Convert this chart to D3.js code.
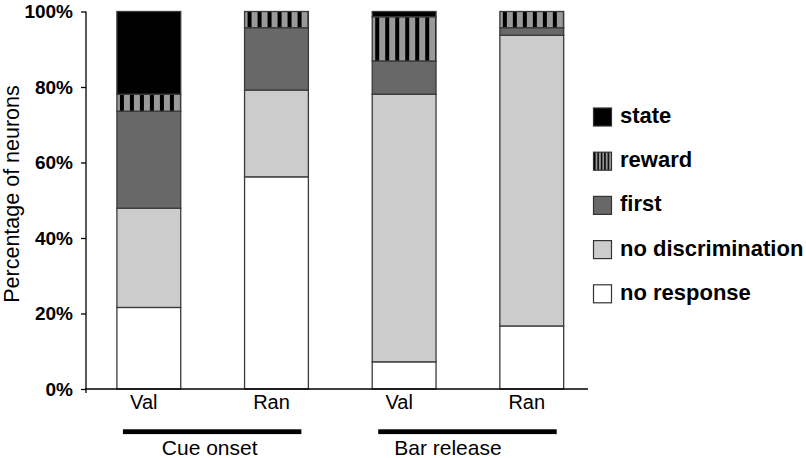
<!DOCTYPE html>
<html>
<head>
<meta charset="utf-8">
<script src="https://cdn.jsdelivr.net/npm/d3@7"></script>
<style>
  html, body { margin: 0; padding: 0; background: #fff; }
  svg { display: block; font-family: "Liberation Sans", Arial, sans-serif; }
</style>
</head>
<body>
<svg id="chart" width="806" height="458"></svg>
<script>
// ---- data (percent of neurons, segment sizes, bottom to top) ----
const categories = ["Val", "Ran", "Val ", "Ran "];
const tickLabels = ["Val", "Ran", "Val", "Ran"];
const noResponse       = [21.6, 56.2,  7.2, 16.7];
const noDiscrimination = [26.3, 23.0, 70.9, 77.0];
const first            = [25.7, 16.5,  8.8,  2.0];
const reward           = [ 4.5,  4.3, 11.7,  4.3];
const state            = [21.9,  0.0,  1.4,  0.0];
const seriesNames = ["no response", "no discrimination", "first", "reward", "state"];
const groupLabels = ["Cue onset", "Bar release"];
const groupMembers = [["Val", "Ran"], ["Val ", "Ran "]];
const yTicks = [0, 20, 40, 60, 80, 100];

// ---- build table ----
const seriesValues = [noResponse, noDiscrimination, first, reward, state];
const table = categories.map((c, i) => {
  const row = { cat: c };
  seriesNames.forEach((s, j) => row[s] = seriesValues[j][i]);
  return row;
});

const svg = d3.select("#chart");

const x = d3.scaleBand().domain(categories).range([85, 595.6])
  .paddingInner(0.5).paddingOuter(0.25);
const y = d3.scaleLinear().domain([0, 100]).range([389, 11.5]);

// patterns
const defs = svg.append("defs");
categories.forEach((c, i) => {
  const p = defs.append("pattern")
    .attr("id", "rew" + i)
    .attr("patternUnits", "userSpaceOnUse")
    .attr("x", x(c) + 3).attr("y", 0)
    .attr("width", 10).attr("height", 10);
  p.append("rect").attr("width", 10).attr("height", 10).attr("fill", "#999");
  p.append("rect").attr("width", 4).attr("height", 10).attr("fill", "#000");
});
const lp = defs.append("pattern")
  .attr("id", "rewLegend")
  .attr("patternUnits", "userSpaceOnUse")
  .attr("x", 594).attr("y", 0)
  .attr("width", 3.4).attr("height", 10);
lp.append("rect").attr("width", 3.4).attr("height", 10).attr("fill", "#999");
lp.append("rect").attr("width", 1.5).attr("height", 10).attr("fill", "#000");

const fills = {
  "no response": "#ffffff",
  "no discrimination": "#cccccc",
  "first": "#686868",
  "state": "#000000"
};

const stack = d3.stack().keys(seriesNames)(table);

const gBars = svg.append("g");
stack.forEach(layer => {
  gBars.selectAll(null)
    .data(layer.map((d, i) => ({ d, i, key: layer.key })))
    .join("rect")
    .filter(o => o.d[1] - o.d[0] > 0)
    .attr("x", o => x(categories[o.i]))
    .attr("width", x.bandwidth())
    .attr("y", o => y(o.d[1]))
    .attr("height", o => y(o.d[0]) - y(o.d[1]))
    .attr("fill", o => o.key === "reward" ? `url(#rew${o.i})` : fills[o.key])
    .attr("stroke", "#3a3a3a")
    .attr("stroke-width", 1.3);
});

// y axis
const yAxis = d3.axisLeft(y).tickValues(yTicks).tickFormat(d => d + "%")
  .tickSize(5).tickSizeOuter(0).tickPadding(8);
const gy = svg.append("g").attr("transform", "translate(86,0)").call(yAxis);
gy.select(".domain").remove();
gy.selectAll(".tick line").attr("stroke", "#000").attr("stroke-width", 1.3);
gy.selectAll(".tick text")
  .attr("font-family", "Liberation Sans, Arial, sans-serif")
  .attr("font-size", 19).attr("font-weight", "bold").attr("fill", "#000");
svg.append("line").attr("x1", 86).attr("x2", 86)
  .attr("y1", y(100)).attr("y2", 393)
  .attr("stroke", "#000").attr("stroke-width", 1.3);

// x axis
svg.append("line").attr("x1", 85).attr("x2", 588)
  .attr("y1", y(0)).attr("y2", y(0))
  .attr("stroke", "#000").attr("stroke-width", 1.3);
const xAxis = d3.axisBottom(x).tickSize(0).tickFormat((d, i) => tickLabels[i]);
const gx = svg.append("g").attr("transform", `translate(0,${y(0)})`).call(xAxis);
gx.select(".domain").remove();
gx.selectAll(".tick text")
  .attr("font-family", "Liberation Sans, Arial, sans-serif")
  .attr("font-size", 20).attr("fill", "#000")
  .attr("y", 20).attr("dy", 0).attr("dx", -5);

// group bars + labels
const labelShift = [-3, -20];
groupMembers.forEach((m, i) => {
  const x0 = x(m[0]) + 6;
  const x1 = x(m[1]) + x.bandwidth() - 7;
  svg.append("rect").attr("x", x0).attr("y", 429.3)
    .attr("width", x1 - x0).attr("height", 4.8).attr("fill", "#000");
  svg.append("text")
    .attr("x", (x(m[0]) + x(m[1]) + x.bandwidth()) / 2 + labelShift[i])
    .attr("y", 454.5)
    .attr("text-anchor", "middle")
    .attr("font-size", 21).attr("fill", "#000")
    .text(groupLabels[i]);
});

// y title
svg.append("text")
  .attr("transform", "translate(19,194) rotate(-90)")
  .attr("text-anchor", "middle")
  .attr("font-size", 21.5).attr("fill", "#000")
  .text("Percentage of neurons");

// legend
const legendOrder = ["state", "reward", "first", "no discrimination", "no response"];
const lg = svg.append("g");
legendOrder.forEach((k, i) => {
  const top = 108 + i * 44.2;
  lg.append("rect").attr("x", 593.5).attr("y", top)
    .attr("width", 18).attr("height", 18)
    .attr("fill", k === "reward" ? "url(#rewLegend)" : fills[k])
    .attr("stroke", "#333").attr("stroke-width", 1.2);
  lg.append("text").attr("x", 620).attr("y", top + 15)
    .attr("font-size", 22).attr("font-weight", "bold").attr("fill", "#000")
    .text(k);
});
</script>
</body>
</html>
